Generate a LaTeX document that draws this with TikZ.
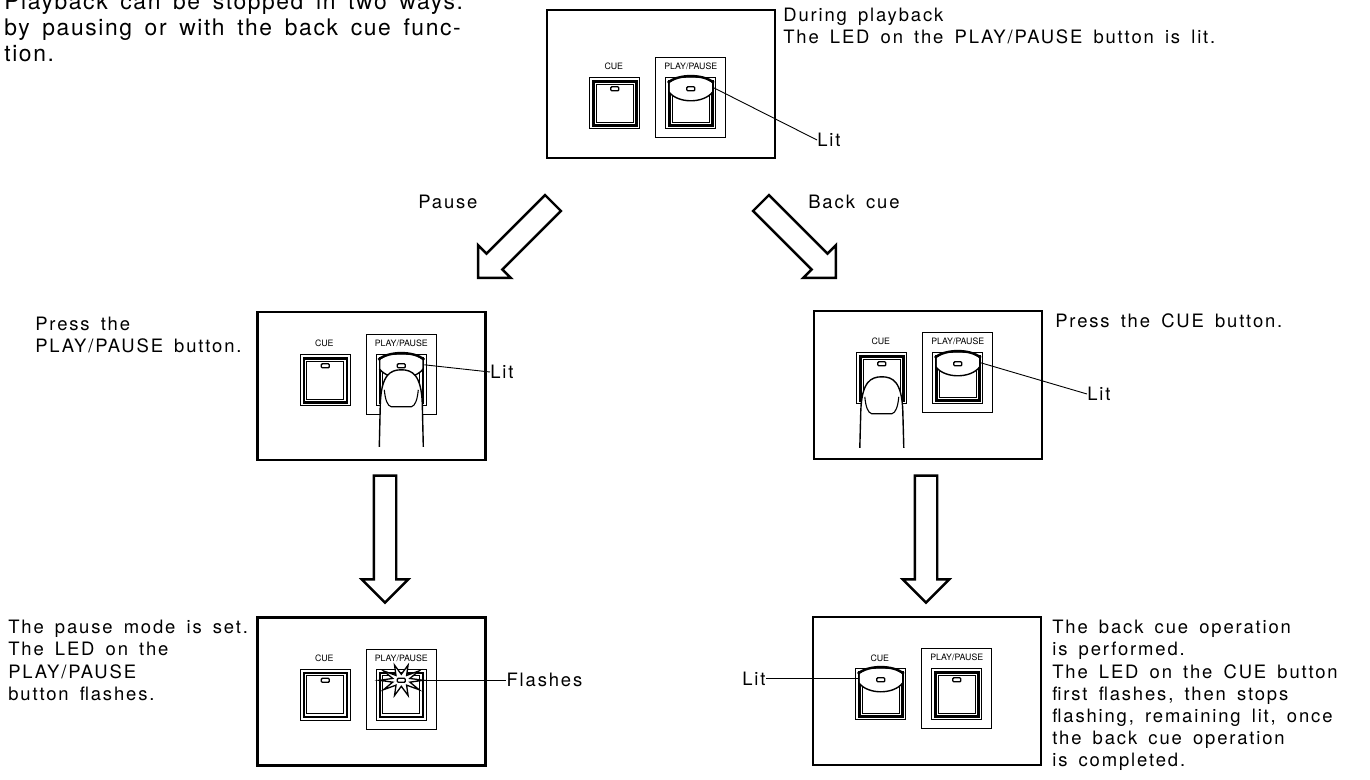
\documentclass[tikz,border=0pt]{standalone}
\usepackage{fontspec}
\setmainfont{TeX Gyre Heros}
\newfontfamily\spaced{TeX Gyre Heros}[LetterSpace=10,WordSpace=1.6]
\newfontfamily\headfont{TeX Gyre Heros}[LetterSpace=7,WordSpace=1.6]
\usetikzlibrary{shapes.arrows,positioning,calc}

% one pixel of the page grid
\newcommand\px{0.02cm}

\tikzset{
  panel/.style={draw,line width=2.4*\px,minimum width=228*\px,minimum height=148*\px,inner sep=0pt},
  note/.style={align=left,inner sep=0pt,anchor=north west,font=\spaced\fontsize{10.5}{12.6}\selectfont},
  tag/.style={inner sep=0pt,font=\fontsize{5}{6}\selectfont},
  lead/.style={line width=0.9*\px},
  flow/.style={draw,single arrow,line width=2.4*\px,inner sep=10*\px,single arrow head extend=12*\px},
  % push button, origin at its top left corner
  pics/key/.style={code={
    \draw[line width=0.8*\px] (0,0) rectangle (50,51);
    \draw[line width=2.6*\px] (3.5,3.5) rectangle (46.5,47.5);
    \draw[line width=0.7*\px] (6.5,6.5) rectangle (43.5,44.5);
    \draw[line width=1.3*\px,fill=white,rounded corners=1*\px] (21,9) rectangle (29,13);
    \coordinate (-o) at (0,0);
    \coordinate (-led) at (25,11);
    \coordinate (-l) at (2,10);
    \coordinate (-r) at (48,10);
  }},
  % CUE and PLAY/PAUSE keys, moved down by #1
  pics/keypair/.style={code={
    \node[tag] (-cuetag) at (68,{42+#1}) {CUE};
    \draw[line width=0.8*\px] (110,{33+#1}) rectangle (180,{113+#1});
    \node[tag] (-pptag) at (145,{42+#1}) {PLAY/PAUSE};
    \pic (-cue) at (44,{53+#1}) {key};
    \pic (-pp) at (120,{53+#1}) {key};
  }},
  % lit lens on top of a key
  pics/dome/.style={code={
    \fill[white] (4,5) .. controls (12,-2) and (38,-2) .. (46,5) -- (46,15) .. controls (38,26) and (12,26) .. (4,15) -- cycle;
    \draw[line width=2.4*\px] (2,5) .. controls (12,-4) and (38,-4) .. (48,5);
    \draw[line width=1.4*\px] (3,14) .. controls (12,26) and (38,26) .. (47,14);
    \draw[line width=1.3*\px,fill=white,rounded corners=1*\px] (21,9) rectangle (29,13);
  }},
  % finger, origin at the tip, #1 = length
  pics/finger/.style={code={
    \draw[line width=1.4*\px,fill=white] (-22,#1) -- (-21,34) .. controls (-20,5) and (-11,0) .. (0,0)
      .. controls (11,0) and (20,5) .. (21,34) -- (22,#1);
    \draw[line width=1.1*\px] (-17,20) .. controls (-16,30) and (-14,36) .. (-10,37) -- (10,37)
      .. controls (14,36) and (16,30) .. (17,20);
  }},
  % flashing LED
  pics/flash/.style={code={
    \draw[line width=1.3*\px,fill=white] (0:22 and 16)
      \foreach \a in {36,72,...,324} {-- (\a-18:9 and 6) -- (\a:22 and 16)} -- (342:9 and 6) -- cycle;
    \draw[line width=1.3*\px,fill=white,rounded corners=1*\px] (-4,-2) rectangle (4,2);
    \coordinate (-tip) at (0:22 and 16);
  }}
}

\begin{document}
\begin{tikzpicture}[x=\px,y=-\px]
\path[fill=white,use as bounding box] (0,0) rectangle (1370,780);

\node[note,font=\headfont\fontsize{13}{14.7}\selectfont] (intro) at (4,-7)
  {Playback can be stopped in two ways:\\by pausing or with the back cue func-\\tion.};

% during playback
\node[panel] (playbox) at (661,84) {};
\pic (p0) at (playbox.north west) {keypair=16};
\pic at (p0-pp-o) {dome};
\node[note] (playnote) at (783,8) {During playback\\The LED on the PLAY/PAUSE button is lit.};
\node[note,anchor=west] (litplay) at (817,140) {Lit};
\draw[lead] (p0-pp-r) -- (litplay.west);

% two ways out
\node[flow,rotate=225,minimum height=106*\px] (pausearrow) at (519.5,236.5) {};
\node[flow,rotate=-45,minimum height=106*\px] (cuearrow) at (794.5,236.5) {};
\node[note,anchor=west] (pauselbl) at (418,202) {Pause};
\node[note,anchor=west] (cuelbl) at (808,202) {Back cue};

% pressing the keys
\node[panel] (pausepress) at (371.5,386) {};
\pic (p1) at (pausepress.north west) {keypair=-9};
\pic at (p1-pp-o) {dome};
\pic at ($(p1-pp-o)+(25,15)$) {finger=77};
\node[note] (presspp) at (35,317) {Press the\\PLAY/PAUSE button.};
\node[note,anchor=west] (litpress) at (490,372) {Lit};
\draw[lead] (p1-pp-r) -- (litpress.west);

\node[panel] (cuepress) at (928,385) {};
\pic (p2) at (cuepress.north west) {keypair=-10};
\pic at (p2-pp-o) {dome};
\pic at ($(p2-cue-o)+(25,24)$) {finger=71};
\node[note] (presscue) at (1055,313) {Press the CUE button.};
\node[note,anchor=west] (litcue) at (1087,394) {Lit};
\draw[lead] (p2-pp-r) -- (litcue.west);

\node[flow,rotate=-90,minimum height=127*\px] (downleft) at (385,533.5) {};
\node[flow,rotate=-90,minimum height=127*\px] (downright) at (926,533.5) {};

% results
\node[panel] (pauseset) at (371.5,691.5) {};
\pic (p3) at (pauseset.north west) {keypair=0};
\pic (p3f) at (p3-pp-led) {flash};
\node[note,right=1.66cm of p3f-tip] (flashes) {Flashes};
\draw[lead] (p3f-tip) -- (flashes.west);
\node[note] (pausenote) at (8,620) {The pause mode is set.\\The LED on the\\PLAY/PAUSE\\button flashes.};

\node[panel] (cuedone) at (927,691) {};
\pic (p4) at (cuedone.north west) {keypair=0};
\pic at (p4-cue-o) {dome};
\node[note,left=1.84cm of p4-cue-l] (litback) {Lit};
\draw[lead] (litback.east) -- (p4-cue-l);
\node[note] (cuenote) at (1052,620) {The back cue operation\\is performed.\\The LED on the CUE button\\first flashes, then stops\\flashing, remaining lit, once\\the back cue operation\\is completed.};
\end{tikzpicture}
\end{document}
